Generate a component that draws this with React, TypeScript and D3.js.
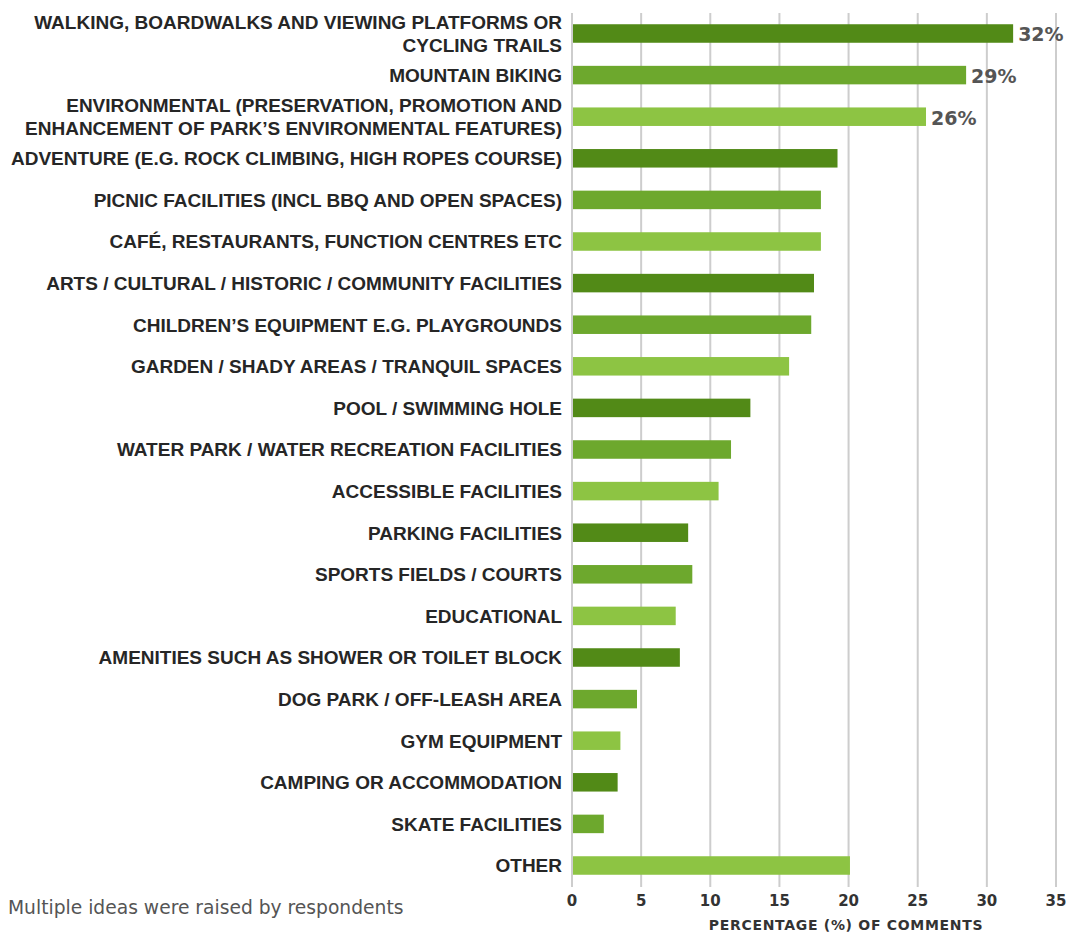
import React from "react";
import * as d3 from "d3";

const categories: string[][] = [
  ["WALKING, BOARDWALKS AND VIEWING PLATFORMS OR", "CYCLING TRAILS"],
  ["MOUNTAIN BIKING"],
  ["ENVIRONMENTAL (PRESERVATION, PROMOTION AND", "ENHANCEMENT OF PARK\u2019S ENVIRONMENTAL FEATURES)"],
  ["ADVENTURE (E.G. ROCK CLIMBING, HIGH ROPES COURSE)"],
  ["PICNIC FACILITIES (INCL BBQ AND OPEN SPACES)"],
  ["CAF\u00c9, RESTAURANTS, FUNCTION CENTRES ETC"],
  ["ARTS / CULTURAL / HISTORIC / COMMUNITY FACILITIES"],
  ["CHILDREN\u2019S EQUIPMENT E.G. PLAYGROUNDS"],
  ["GARDEN / SHADY AREAS / TRANQUIL SPACES"],
  ["POOL / SWIMMING HOLE"],
  ["WATER PARK / WATER RECREATION FACILITIES"],
  ["ACCESSIBLE FACILITIES"],
  ["PARKING FACILITIES"],
  ["SPORTS FIELDS / COURTS"],
  ["EDUCATIONAL"],
  ["AMENITIES SUCH AS SHOWER OR TOILET BLOCK"],
  ["DOG PARK / OFF-LEASH AREA"],
  ["GYM EQUIPMENT"],
  ["CAMPING OR ACCOMMODATION"],
  ["SKATE FACILITIES"],
  ["OTHER"],
];

const values: number[] = [
  31.9, 28.5, 25.6, 19.2, 18.0, 18.0, 17.5, 17.3, 15.7, 12.9, 11.5, 10.6,
  8.4, 8.7, 7.5, 7.8, 4.7, 3.5, 3.3, 2.3, 20.1,
];

const valueLabels: (string | null)[] = [
  "32%", "29%", "26%", null, null, null, null, null, null, null, null,
  null, null, null, null, null, null, null, null, null, null,
];

const ticks: number[] = [0, 5, 10, 15, 20, 25, 30, 35];
const palette: string[] = ["#528a17", "#6da82d", "#8dc443"];

const axisTitle = "PERCENTAGE (%) OF COMMENTS";
const footnote = "Multiple ideas were raised by respondents";

export default function App() {
  const W = 1070;
  const H = 932;
  const ids = categories.map((_, i) => String(i));
  const x = d3.scaleLinear().domain([0, 35]).range([572, 1056]);
  const y = d3
    .scaleBand<string>()
    .domain(ids)
    .range([12.7, 886.3])
    .paddingInner(0.555)
    .paddingOuter(0.2775);
  const labelFont = "'Liberation Sans', Arial, sans-serif";
  const numFont = "'DejaVu Sans', Verdana, sans-serif";

  return (
    <svg
      width={W}
      height={H}
      style={{ position: "absolute", left: 0, top: 0, display: "block", background: "#fff" }}
    >
      {ticks.map((t) => (
        <line
          key={"g" + t}
          x1={x(t)}
          x2={x(t)}
          y1={13}
          y2={887}
          stroke="#cdcdcd"
          strokeWidth={2}
        />
      ))}
      {values.map((v, i) => {
        const yy = y(ids[i])!;
        return (
          <rect
            key={"b" + i}
            x={x(0) + 1}
            y={yy}
            width={x(v) - x(0) - 1}
            height={y.bandwidth()}
            fill={palette[i % 3]}
          />
        );
      })}
      {categories.map((lines, i) => {
        const cy = y(ids[i])! + y.bandwidth() / 2;
        const n = lines.length;
        return (
          <text
            key={"l" + i}
            textAnchor="end"
            fontFamily={labelFont}
            fontWeight="bold"
            fontSize={19}
            fill="#262626"
          >
            {lines.map((ln, j) => (
              <tspan key={j} x={562} y={cy + (j - (n - 1) / 2) * 23} dy="0.36em">
                {ln}
              </tspan>
            ))}
          </text>
        );
      })}
      {values.map((v, i) =>
        valueLabels[i] ? (
          <text
            key={"v" + i}
            x={x(v) + 5}
            y={y(ids[i])! + y.bandwidth() / 2 + 1}
            dy="0.36em"
            fontFamily={numFont}
            fontWeight="bold"
            fontSize={19}
            fill="#555"
          >
            {valueLabels[i]}
          </text>
        ) : null
      )}
      {ticks.map((t) => (
        <text
          key={"t" + t}
          x={x(t)}
          y={901}
          dy="0.36em"
          textAnchor="middle"
          fontFamily={numFont}
          fontWeight="bold"
          fontSize={15}
          fill="#333"
        >
          {t}
        </text>
      ))}
      <text
        x={846}
        y={925}
        dy="0.36em"
        textAnchor="middle"
        fontFamily={numFont}
        fontWeight="bold"
        fontSize={14}
        letterSpacing={0.7}
        fill="#333"
      >
        {axisTitle}
      </text>
      <text
        x={8}
        y={907}
        dy="0.36em"
        fontFamily={numFont}
        fontSize={18.7}
        fill="#555"
      >
        {footnote}
      </text>
    </svg>
  );
}
